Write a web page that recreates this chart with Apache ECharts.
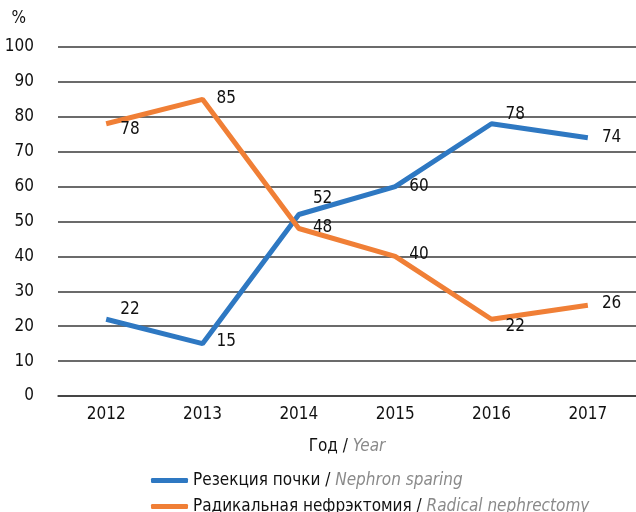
<!DOCTYPE html>
<html>
<head>
<meta charset="utf-8">
<script src="https://cdn.jsdelivr.net/npm/echarts@6/dist/echarts.min.js"></script>
<style>
  html, body { margin: 0; padding: 0; background: #fff; }
  #container { width: 636px; height: 512px; }
</style>
</head>
<body>
<div id="container"></div>
<script>
  var years = ['2012', '2013', '2014', '2015', '2016', '2017'];
  var nephronSparing = [22, 15, 52, 60, 78, 74];
  var radicalNephrectomy = [78, 85, 48, 40, 22, 26];
  // label nudges (px) so the numbers sit like in the original
  var blueOffsets = [[0, -10], [0, -2], [0, -16], [0, 0], [0, -9], [0, 0]];
  var orangeOffsets = [[0, 6], [0, -1], [0, -1], [0, -2], [0, 7], [0, -2]];

  var font = '"Liberation Sans Narrow", "DejaVu Sans Condensed", sans-serif';
  var italicGray = { fontFamily: font, fontSize: 17, fontStyle: 'italic', color: '#8a8a8a' };

  function withLabels(values, offsets) {
    return values.map(function (v, i) {
      return { value: v, label: { offset: offsets[i] } };
    });
  }

  function legendAt(top, name, english) {
    return {
      left: 146,
      top: top,
      itemWidth: 37,
      itemHeight: 5,
      icon: 'roundRect',
      textStyle: { fontFamily: font, fontSize: 17, color: '#111', rich: { it: italicGray } },
      formatter: function (n) { return n + ' / {it|' + english + '}'; },
      data: [name]
    };
  }

  var myChart = echarts.init(document.getElementById('container'));
  var option = {
    backgroundColor: '#fff',
    textStyle: { fontFamily: font },
    grid: { left: 58, right: -2, top: 47, bottom: 116 },
    legend: [
      legendAt(467, 'Резекция почки', 'Nephron sparing'),
      legendAt(493, 'Радикальная нефрэктомия', 'Radical nephrectomy')
    ],
    xAxis: {
      type: 'category',
      data: years,
      name: 'Год / {it|Year}',
      nameLocation: 'middle',
      nameGap: 42,
      nameTextStyle: { fontFamily: font, fontSize: 17, color: '#111', rich: { it: italicGray } },
      axisLine: { lineStyle: { color: '#3a3a3a', width: 1.5 } },
      axisTick: { show: false },
      axisLabel: { fontFamily: font, fontSize: 17, color: '#111', margin: 10 }
    },
    yAxis: {
      type: 'value',
      min: 0,
      max: 100,
      interval: 10,
      name: '%',
      nameLocation: 'end',
      nameGap: 20,
      nameTextStyle: { fontFamily: font, fontSize: 17, color: '#111', align: 'right', padding: [0, 32, 0, 0] },
      axisLine: { show: false },
      axisTick: { show: false },
      axisLabel: { fontFamily: font, fontSize: 17, color: '#111', margin: 24 },
      splitLine: { lineStyle: { color: '#3a3a3a', width: 1.5 } }
    },
    series: [
      {
        name: 'Резекция почки',
        type: 'line',
        data: withLabels(nephronSparing, blueOffsets),
        symbol: 'circle',
        symbolSize: 0.1,
        color: '#2e78c2',
        lineStyle: { width: 5, color: '#2e78c2' },
        label: { show: true, position: 'right', distance: 14, fontFamily: font, fontSize: 17, color: '#111' },
        animation: false
      },
      {
        name: 'Радикальная нефрэктомия',
        type: 'line',
        data: withLabels(radicalNephrectomy, orangeOffsets),
        symbol: 'circle',
        symbolSize: 0.1,
        color: '#f07f36',
        lineStyle: { width: 5, color: '#f07f36' },
        label: { show: true, position: 'right', distance: 14, fontFamily: font, fontSize: 17, color: '#111' },
        animation: false
      }
    ]
  };
  myChart.setOption(option);
</script>
</body>
</html>
